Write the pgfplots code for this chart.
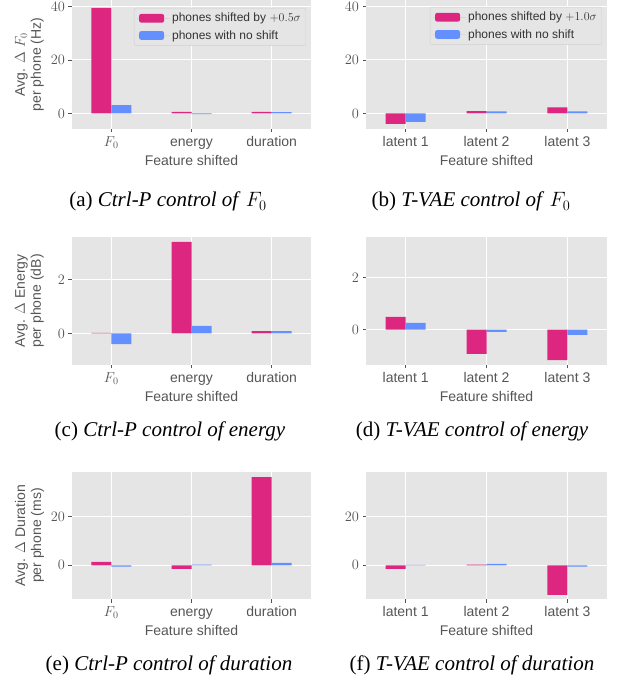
\documentclass[border=0pt]{standalone}
\usepackage{fontspec}
\setmainfont{Liberation Sans}
\newfontfamily\capfont{Liberation Serif}
\usepackage{pgfplots}
\pgfplotsset{compat=1.18}
\definecolor{bg}{HTML}{E5E5E5}
\definecolor{pinkc}{HTML}{DC267F}
\definecolor{bluec}{HTML}{648FFF}
\definecolor{txt}{HTML}{555555}
\pgfplotsset{
 gg/.style={
  scale only axis, width=239pt, anchor=north west,
  axis background/.style={fill=bg},
  axis line style={draw=none},
  grid=major, major grid style={white, line width=1pt},
  tick align=outside, major tick length=3.5pt, tick pos=left,
  tick style={color=txt, line width=0.8pt},
  xmin=-0.49, xmax=2.49, xtick={0,1,2},
  ticklabel style={font=\fontsize{14}{16}\selectfont, text=txt},
  yticklabel style={font=\fontsize{14.5}{16}\selectfont},
  xticklabel style={text height=10pt, text depth=3pt},
  label style={font=\fontsize{14}{16}\selectfont, text=txt},
  xlabel={Feature shifted},
  xlabel style={at={(axis description cs:0.5,-0.245)}, anchor=center},
  ylabel style={at={(axis description cs:-0.178,0.5)}, anchor=center, align=center},
  ybar, bar width=20pt,
  legend style={font=\fontsize{12}{14}\selectfont, text=black!80, fill=bg, draw=black!18,
    rounded corners=2pt, anchor=north east, inner sep=3pt, row sep=3pt},
  legend cell align=left,
 },
 pk/.style={fill=pinkc, draw=none, bar shift=-10pt,
   legend image code/.code={\path (-2pt,0) -- (31pt,0); \fill[pinkc] (0pt,-4.3pt) rectangle (25pt,4.3pt);}},
 bl/.style={fill=bluec, draw=none, bar shift=10pt,
   legend image code/.code={\path (-2pt,0) -- (31pt,0); \fill[bluec] (0pt,-4.3pt) rectangle (25pt,4.3pt);}},
}
\begin{document}
\begin{tikzpicture}
\useasboundingbox (0,0) rectangle (619pt,686pt);
% (a)
\begin{axis}[gg, at={(72pt,686pt)}, height=129pt, ymin=-5.8, ymax=42.4, ytick={0,20,40},
  xticklabels={$F_0$,energy,duration},
  ylabel={Avg. $\Delta$ $F_0$\\per phone (Hz)},
  legend style={at={(0.979,0.938)}}]
\addplot[pk] coordinates {(0,39.5) (1,0.6) (2,0.6)};
\addplot[bl] coordinates {(0,3.1) (1,-0.25) (2,0.5)};
\legend{phones shifted by $+0.5\sigma$, phones with no shift}
\end{axis}
% (b)
\begin{axis}[gg, at={(366pt,686pt)}, width=241pt, height=129pt, ymin=-5.8, ymax=42.4, ytick={0,20,40},
  xticklabels={latent 1,latent 2,latent 3},
  legend style={at={(0.979,0.946)}}]
\addplot[pk] coordinates {(0,-3.85) (1,0.85) (2,2.3)};
\addplot[bl] coordinates {(0,-3.1) (1,0.8) (2,0.8)};
\legend{phones shifted by $+1.0\sigma$, phones with no shift}
\end{axis}
% (c)
\begin{axis}[gg, at={(72pt,449pt)}, height=128pt, ymin=-1.17, ymax=3.57, ytick={0,2},
  xticklabels={$F_0$,energy,duration},
  ylabel={Avg. $\Delta$ Energy\\per phone (dB)}]
\addplot[pk] coordinates {(0,0.02) (1,3.39) (2,0.085)};
\addplot[bl] coordinates {(0,-0.40) (1,0.28) (2,0.08)};
\end{axis}
% (d)
\begin{axis}[gg, at={(366pt,449pt)}, width=241pt, height=128pt, ymin=-1.36, ymax=3.56, ytick={0,2},
  xticklabels={latent 1,latent 2,latent 3}]
\addplot[pk] coordinates {(0,0.49) (1,-0.93) (2,-1.17)};
\addplot[bl] coordinates {(0,0.26) (1,-0.09) (2,-0.2)};
\end{axis}
% (e)
\begin{axis}[gg, at={(72pt,214.3pt)}, height=127.6pt, ymin=-14, ymax=38.5, ytick={0,20},
  xticklabels={$F_0$,energy,duration},
  ylabel={Avg. $\Delta$ Duration\\per phone (ms)}]
\addplot[pk] coordinates {(0,1.36) (1,-1.5) (2,36.3)};
\addplot[bl] coordinates {(0,-0.6) (1,0.25) (2,0.95)};
\end{axis}
% (f)
\begin{axis}[gg, at={(366pt,214.3pt)}, width=241pt, height=127.6pt, ymin=-14, ymax=38.5, ytick={0,20},
  xticklabels={latent 1,latent 2,latent 3}]
\addplot[pk] coordinates {(0,-1.5) (1,0.3) (2,-12.2)};
\addplot[bl] coordinates {(0,0.2) (1,0.55) (2,-0.6)};
\end{axis}
% captions
\begin{scope}[every node/.style={anchor=base, font=\capfont\fontsize{21}{24}\selectfont}]
\node at (168pt,479pt) {(a) \textit{Ctrl-P control of} $F_0$};
\node at (471pt,479pt) {(b) \textit{T-VAE control of} $F_0$};
\node at (170pt,249pt) {(c) \textit{Ctrl-P control of energy}};
\node at (472pt,249pt) {(d) \textit{T-VAE control of energy}};
\node at (169pt,16pt) {(e) \textit{Ctrl-P control of duration}};
\node at (472pt,16pt) {(f) \textit{T-VAE control of duration}};
\end{scope}
\end{tikzpicture}
\end{document}
